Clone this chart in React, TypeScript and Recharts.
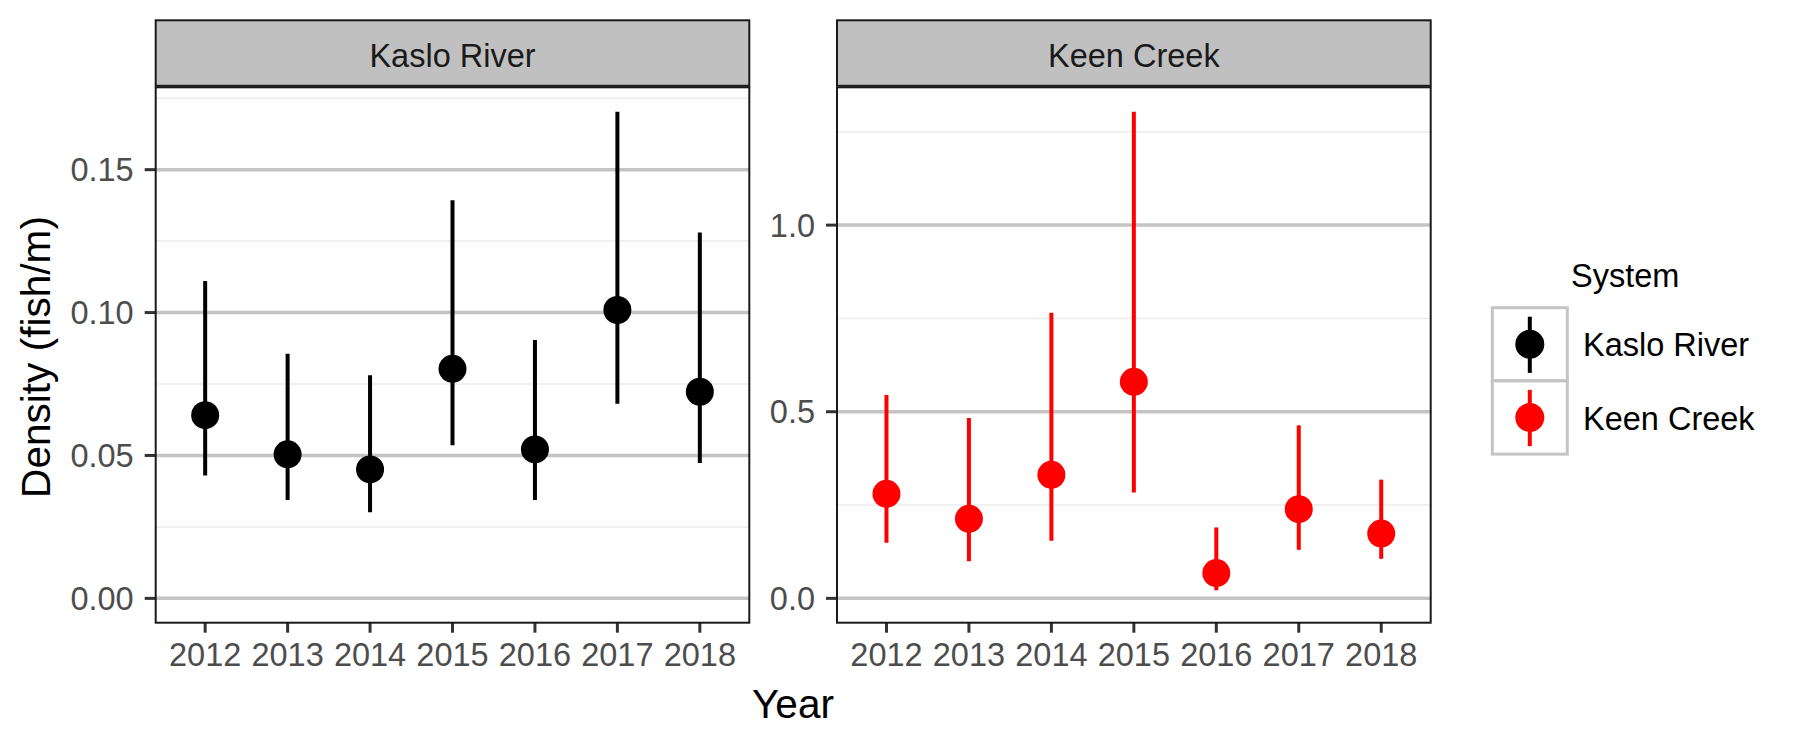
import React from 'react';
import { ComposedChart, Scatter, ErrorBar, XAxis, YAxis, CartesianGrid } from 'recharts';

// ---------------- data ----------------
const years = [2012, 2013, 2014, 2015, 2016, 2017, 2018];
const systems = ['Kaslo River', 'Keen Creek'];
const systemColors = ['#000000', '#FF0000'];

const kasloEstimate = [0.0641, 0.0504, 0.0451, 0.0803, 0.0521, 0.1009, 0.0723];
const kasloLower = [0.043, 0.0344, 0.0301, 0.0536, 0.0344, 0.0681, 0.0474];
const kasloUpper = [0.111, 0.0856, 0.0781, 0.1393, 0.0904, 0.1703, 0.128];

const keenEstimate = [0.28, 0.213, 0.331, 0.58, 0.0677, 0.239, 0.1737];
const keenLower = [0.149, 0.0996, 0.1545, 0.2835, 0.0217, 0.13, 0.106];
const keenUpper = [0.545, 0.483, 0.765, 1.304, 0.19, 0.4636, 0.318];

const kasloTicks = [0, 0.05, 0.1, 0.15];
const kasloTickLabels = ['0.00', '0.05', '0.10', '0.15'];
const kasloMinor = [0.025, 0.075, 0.125, 0.175];

const keenTicks = [0, 0.5, 1.0];
const keenTickLabels = ['0.0', '0.5', '1.0'];
const keenMinor = [0.25, 0.75, 1.25];

const xTitle = 'Year';
const yTitle = 'Density (fish/m)';
const legendTitle = 'System';

// ---------------- layout ----------------
const FONT = '"Liberation Sans", Arial, Helvetica, sans-serif';
const W = 1799;
const H = 749;
const PLOT_TOP = 87.3;
const PLOT_BOTTOM = 622.7;
const YW = 70;
const XH = 60;
const TICK_FS = 32.5;
const TITLE_FS = 40.6;

const buildRows = (est: number[], lo: number[], hi: number[]) =>
  years.map((y, i) => ({ year: y, value: est[i], err: [est[i] - lo[i], hi[i] - est[i]] }));

const expandDomain = (lo: number[], hi: number[]): [number, number] => {
  const mn = Math.min(0, ...lo);
  const mx = Math.max(...hi);
  const pad = (mx - mn) * 0.05;
  return [mn - pad, mx + pad];
};

type PanelProps = {
  left: number;
  width: number;
  plotLeft: number;
  plotRight: number;
  rows: any[];
  color: string;
  domain: [number, number];
  ticks: number[];
  tickLabels: string[];
  minor: number[];
};

const Panel = ({ left, width, plotLeft, plotRight, rows, color, domain, ticks, tickLabels, minor }: PanelProps) => {
  const shape = (props: any) => <circle cx={props.cx} cy={props.cy} r={14} fill={color} />;
  return (
    <div style={{ position: 'absolute', left, top: 0, width, height: H }}>
      <ComposedChart
        width={width}
        height={H}
        data={rows}
        margin={{
          top: PLOT_TOP,
          bottom: H - PLOT_BOTTOM - XH,
          left: plotLeft - YW,
          right: width - plotRight,
        }}
      >
        <CartesianGrid vertical={false} horizontalValues={minor} stroke="#EBEBEB" strokeWidth={1.5} />
        <CartesianGrid vertical={false} horizontalValues={ticks} stroke="#C4C4C4" strokeWidth={3.5} />
        <XAxis
          dataKey="year"
          type="number"
          domain={[2011.4, 2018.6]}
          ticks={years}
          interval={0}
          allowDataOverflow
          height={XH}
          axisLine={false}
          tickSize={10}
          tickMargin={10}
          tickLine={{ stroke: '#333333', strokeWidth: 3 }}
          tick={{ fill: '#4D4D4D', fontSize: TICK_FS, fontFamily: FONT }}
          tickFormatter={(v: number) => String(v)}
        />
        <YAxis
          type="number"
          domain={domain}
          ticks={ticks}
          interval={0}
          allowDataOverflow
          width={YW}
          axisLine={false}
          tickSize={11}
          tickMargin={11}
          tickLine={{ stroke: '#333333', strokeWidth: 3 }}
          tick={{ fill: '#4D4D4D', fontSize: TICK_FS, fontFamily: FONT }}
          tickFormatter={(v: number) => {
            const i = ticks.findIndex((t) => Math.abs(t - v) < 1e-9);
            return i >= 0 ? tickLabels[i] : String(v);
          }}
        />
        <Scatter dataKey="value" fill={color} shape={shape} isAnimationActive={false}>
          <ErrorBar
            dataKey="err"
            direction="y"
            width={0}
            stroke={color}
            strokeWidth={4}
            isAnimationActive={false}
          />
        </Scatter>
      </ComposedChart>
    </div>
  );
};

export default function App() {
  const kasloRows = buildRows(kasloEstimate, kasloLower, kasloUpper);
  const keenRows = buildRows(keenEstimate, keenLower, keenUpper);

  const panels = [
    { left: 0, width: 760, plotLeft: 155.7, plotRight: 749.3 },
    { left: 760, width: 700, plotLeft: 837 - 760, plotRight: 1430.7 - 760 },
  ];

  const frames = [
    { x0: 155.7, x1: 749.3 },
    { x0: 837, x1: 1430.7 },
  ];

  const keyX0 = 1492.3;
  const keyX1 = 1567.3;
  const keyTop = 307.7;
  const keyH = 73.2;

  return (
    <div
      style={{
        position: 'absolute',
        left: 0,
        top: 0,
        width: W,
        height: H,
        background: '#FFFFFF',
        fontFamily: FONT,
        overflow: 'hidden',
      }}
    >
      <Panel
        {...panels[0]}
        rows={kasloRows}
        color={systemColors[0]}
        domain={expandDomain(kasloLower, kasloUpper)}
        ticks={kasloTicks}
        tickLabels={kasloTickLabels}
        minor={kasloMinor}
      />
      <Panel
        {...panels[1]}
        rows={keenRows}
        color={systemColors[1]}
        domain={expandDomain(keenLower, keenUpper)}
        ticks={keenTicks}
        tickLabels={keenTickLabels}
        minor={keenMinor}
      />
      <svg
        width={W}
        height={H}
        style={{ position: 'absolute', left: 0, top: 0, pointerEvents: 'none' }}
      >
        {frames.map((f, i) => (
          <g key={i}>
            <rect
              x={f.x0}
              y={20.3}
              width={f.x1 - f.x0}
              height={PLOT_TOP - 20.3 - 1.5}
              fill="#C0C0C0"
              stroke="#1A1A1A"
              strokeWidth={2}
            />
            <text
              x={(f.x0 + f.x1) / 2}
              y={66.5}
              textAnchor="middle"
              fontSize={TICK_FS}
              fill="#1A1A1A"
              fontFamily={FONT}
            >
              {systems[i]}
            </text>
            <rect
              x={f.x0}
              y={PLOT_TOP}
              width={f.x1 - f.x0}
              height={PLOT_BOTTOM - PLOT_TOP}
              fill="none"
              stroke="#1A1A1A"
              strokeWidth={2}
            />
          </g>
        ))}
        <text x={793} y={718} textAnchor="middle" fontSize={TITLE_FS} fill="#000" fontFamily={FONT}>
          {xTitle}
        </text>
        <text
          x={50}
          y={357}
          textAnchor="middle"
          fontSize={TITLE_FS}
          fill="#000"
          fontFamily={FONT}
          transform="rotate(-90, 50, 357)"
        >
          {yTitle}
        </text>
        <text x={1571} y={287} fontSize={TICK_FS} fill="#000" fontFamily={FONT}>
          {legendTitle}
        </text>
        {systems.map((s, i) => {
          const top = keyTop + i * keyH;
          const cx = (keyX0 + keyX1) / 2;
          const cy = top + keyH / 2;
          return (
            <g key={s}>
              <rect
                x={keyX0}
                y={top}
                width={keyX1 - keyX0}
                height={keyH}
                fill="#FFFFFF"
                stroke="#C4C4C4"
                strokeWidth={3}
              />
              <line x1={cx} x2={cx} y1={top + 9} y2={top + keyH - 8} stroke={systemColors[i]} strokeWidth={4} />
              <circle cx={cx} cy={cy} r={14.5} fill={systemColors[i]} />
              <text x={1583} y={cy + 12} fontSize={TICK_FS} fill="#000" fontFamily={FONT}>
                {s}
              </text>
            </g>
          );
        })}
      </svg>
    </div>
  );
}
